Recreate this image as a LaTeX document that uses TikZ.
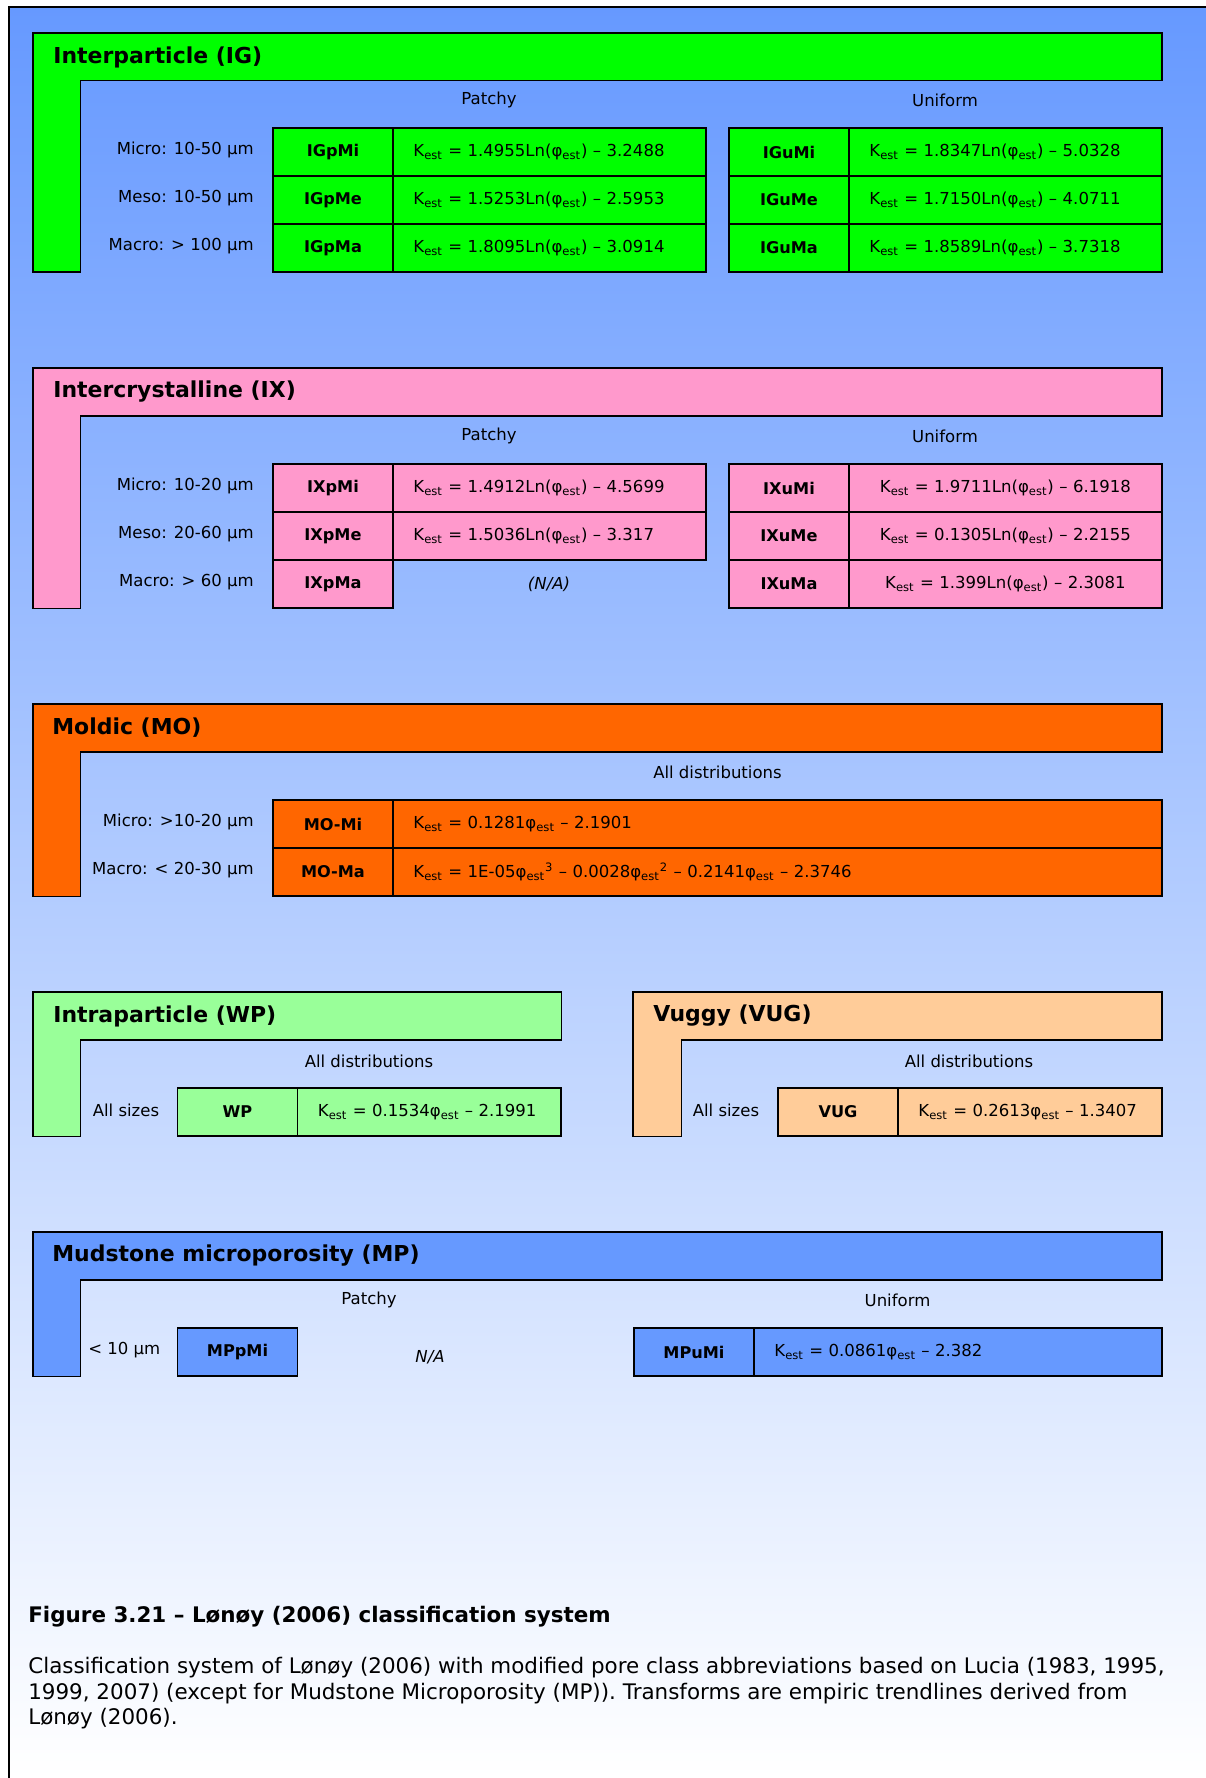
\documentclass[tikz,border=0pt]{standalone}
\usepackage{fontspec}
\setmainfont{DejaVu Sans}
\usepackage{xcolor}
\definecolor{bgblue}{HTML}{6699FF}
\definecolor{igcol}{HTML}{00FF00}
\definecolor{ixcol}{HTML}{FF99CC}
\definecolor{mocol}{HTML}{FF6600}
\definecolor{wpcol}{HTML}{99FF99}
\definecolor{vugcol}{HTML}{FFCC99}
\newcommand{\kest}{K\textsubscript{est}}
\newcommand{\pest}{φ\textsubscript{est}}
\tikzset{lshape/.style={draw, line width=1.1pt, line join=miter},
  ttl/.style={anchor=west, inner sep=0pt, font=\bfseries\fontsize{12.5pt}{14pt}\selectfont},
  lab/.style={inner sep=0pt, font=\fontsize{9.4pt}{11pt}\selectfont},
  rowlab/.style={lab, anchor=east},
  cell/.style={draw, line width=1.1pt, inner sep=0pt, outer sep=0pt, minimum height=0.96cm,
    anchor=north west, font=\fontsize{9.4pt}{11pt}\selectfont},
  codebox/.style={cell, minimum width=2.4cm, font=\bfseries\fontsize{9.2pt}{11pt}\selectfont},
  eqbox/.style={cell, text width=#1, align=left, inner xsep=0.41cm},
  eqmid/.style={cell, text width=#1, align=center},
  captxt/.style={anchor=base west, inner sep=0pt, font=\fontsize{12.2pt}{14pt}\selectfont}}

\begin{document}
\begin{tikzpicture}[x=0.02cm, y=-0.02cm]
    \useasboundingbox (0,0) rectangle (1206,1778);
    \fill[white] (0,0) rectangle (1206,1778);
    \shade[top color=bgblue, bottom color=white] (9,7) rectangle (1206,1778);
    \draw[line width=1.1pt] (9,1778) -- (9,7) -- (1206,7);

    % Interparticle (IG)
    \draw[lshape, fill=igcol] (33,33) -- (1162,33) -- (1162,80.5) -- (80.5,80.5) -- (80.5,272) -- (33,272) -- cycle;
    \node[ttl] (igt) at (53,57) {Interparticle (IG)};
    \node[lab] (igpat) at (489,100) {Patchy};
    \node[lab] (iguni) at (945,100) {Uniform};
    \node[rowlab] (igmi) at (254,150) {Micro: 10-50 µm};
    \node[rowlab] (igme) at (254,198) {Meso: 10-50 µm};
    \node[rowlab] (igma) at (254,246) {Macro: > 100 µm};
    \node[codebox, fill=igcol] (igpmi) at (273,128) {IGpMi};
    \node[codebox, fill=igcol] (igpme) at (igpmi.south west) {IGpMe};
    \node[codebox, fill=igcol] (igpma) at (igpme.south west) {IGpMa};
    \node[eqbox=5.44cm, fill=igcol] (igpmif) at (igpmi.north east) {\kest{} = 1.4955Ln(\pest) – 3.2488};
    \node[eqbox=5.44cm, fill=igcol] (igpmef) at (igpme.north east) {\kest{} = 1.5253Ln(\pest) – 2.5953};
    \node[eqbox=5.44cm, fill=igcol] (igpmaf) at (igpma.north east) {\kest{} = 1.8095Ln(\pest) – 3.0914};
    \node[codebox, fill=igcol] (igumi) at (729,128) {IGuMi};
    \node[codebox, fill=igcol] (igume) at (igumi.south west) {IGuMe};
    \node[codebox, fill=igcol] (iguma) at (igume.south west) {IGuMa};
    \node[eqbox=5.44cm, fill=igcol] (igumif) at (igumi.north east) {\kest{} = 1.8347Ln(\pest) – 5.0328};
    \node[eqbox=5.44cm, fill=igcol] (igumef) at (igume.north east) {\kest{} = 1.7150Ln(\pest) – 4.0711};
    \node[eqbox=5.44cm, fill=igcol] (igumaf) at (iguma.north east) {\kest{} = 1.8589Ln(\pest) – 3.7318};

    % Intercrystalline (IX)
    \draw[lshape, fill=ixcol] (33,368) -- (1162,368) -- (1162,416) -- (80.5,416) -- (80.5,608.5) -- (33,608.5) -- cycle;
    \node[ttl] (ixt) at (53,392) {Intercrystalline (IX)};
    \node[lab] (ixpat) at (489,436) {Patchy};
    \node[lab] (ixuni) at (945,436) {Uniform};
    \node[rowlab] (ixmi) at (254,486) {Micro: 10-20 µm};
    \node[rowlab] (ixme) at (254,534) {Meso: 20-60 µm};
    \node[rowlab] (ixma) at (254,582) {Macro: > 60 µm};
    \node[codebox, fill=ixcol] (ixpmi) at (273,464) {IXpMi};
    \node[codebox, fill=ixcol] (ixpme) at (ixpmi.south west) {IXpMe};
    \node[codebox, fill=ixcol] (ixpma) at (ixpme.south west) {IXpMa};
    \node[eqbox=5.44cm, fill=ixcol] (ixpmif) at (ixpmi.north east) {\kest{} = 1.4912Ln(\pest) – 4.5699};
    \node[eqbox=5.44cm, fill=ixcol] (ixpmef) at (ixpme.north east) {\kest{} = 1.5036Ln(\pest) – 3.317};
    \node[lab, font=\itshape\fontsize{9.4pt}{11pt}\selectfont] (ixpna) at (549,584) {(N/A)};
    \node[codebox, fill=ixcol] (ixumi) at (729,464) {IXuMi};
    \node[codebox, fill=ixcol] (ixume) at (ixumi.south west) {IXuMe};
    \node[codebox, fill=ixcol] (ixuma) at (ixume.south west) {IXuMa};
    \node[eqmid=6.26cm, fill=ixcol] (ixumif) at (ixumi.north east) {\kest{} = 1.9711Ln(\pest) – 6.1918};
    \node[eqmid=6.26cm, fill=ixcol] (ixumef) at (ixume.north east) {\kest{} = 0.1305Ln(\pest) – 2.2155};
    \node[eqmid=6.26cm, fill=ixcol] (ixumaf) at (ixuma.north east) {\kest{} = 1.399Ln(\pest) – 2.3081};

    % Moldic (MO)
    \draw[lshape, fill=mocol] (33,704) -- (1162,704) -- (1162,752) -- (80.5,752) -- (80.5,896.5) -- (33,896.5) -- cycle;
    \node[ttl] (mot) at (52,728) {Moldic (MO)};
    \node[lab] (moall) at (717.5,772) {All distributions};
    \node[rowlab] (momi) at (254,822) {Micro: >10-20 µm};
    \node[rowlab] (moma) at (254,870) {Macro: < 20-30 µm};
    \node[codebox, fill=mocol] (momic) at (273,800) {MO-Mi};
    \node[codebox, fill=mocol] (momac) at (momic.south west) {MO-Ma};
    \node[eqbox=14.56cm, fill=mocol] (momif) at (momic.north east) {\kest{} = 0.1281\pest{} – 2.1901};
    \node[eqbox=14.56cm, fill=mocol] (momaf) at (momac.north east)
        {\kest{} = 1E-05\pest\textsuperscript{3} – 0.0028\pest\textsuperscript{2} – 0.2141\pest{} – 2.3746};

    % Intraparticle (WP)
    \draw[lshape, fill=wpcol] (33,992) -- (561.5,992) -- (561.5,1040) -- (80.5,1040) -- (80.5,1136.5) -- (33,1136.5) -- cycle;
    \node[ttl] (wpt) at (53,1016) {Intraparticle (WP)};
    \node[lab] (wpall) at (369,1061) {All distributions};
    \node[lab] (wpsize) at (126,1110) {All sizes};
    \node[codebox, fill=wpcol] (wpc) at (177.5,1088) {WP};
    \node[eqbox=4.46cm, fill=wpcol] (wpf) at (wpc.north east) {\kest{} = 0.1534\pest{} – 2.1991};

    % Vuggy (VUG)
    \draw[lshape, fill=vugcol] (633,992) -- (1162,992) -- (1162,1040) -- (681.5,1040) -- (681.5,1136.5) -- (633,1136.5) -- cycle;
    \node[ttl] (vugt) at (653,1016) {Vuggy (VUG)};
    \node[lab] (vugall) at (969,1061) {All distributions};
    \node[lab] (vugsize) at (726,1110) {All sizes};
    \node[codebox, fill=vugcol] (vugc) at (778,1088) {VUG};
    \node[eqbox=4.46cm, fill=vugcol] (vugf) at (vugc.north east) {\kest{} = 0.2613\pest{} – 1.3407};

    % Mudstone microporosity (MP)
    \draw[lshape, fill=bgblue] (33,1232) -- (1162,1232) -- (1162,1280) -- (80.5,1280) -- (80.5,1376.5) -- (33,1376.5) -- cycle;
    \node[ttl] (mpt) at (52,1256) {Mudstone microporosity (MP)};
    \node[lab] (mppat) at (369,1300) {Patchy};
    \node[lab] (mpuni) at (897.5,1300) {Uniform};
    \node[lab, anchor=west] (mpsize) at (88,1350) {< 10 µm};
    \node[codebox, fill=bgblue] (mppmi) at (177.5,1328) {MPpMi};
    \node[lab, font=\itshape\fontsize{9.4pt}{11pt}\selectfont] (mpna) at (430,1357) {N/A};
    \node[codebox, fill=bgblue] (mpumi) at (634,1328) {MPuMi};
    \node[eqbox=7.34cm, fill=bgblue] (mpumif) at (mpumi.north east) {\kest{} = 0.0861\pest{} – 2.382};

    % caption
    \node[captxt, font=\bfseries\fontsize{12.2pt}{14pt}\selectfont] (capt) at (28,1622)
        {Figure 3.21 – Lønøy (2006) classification system};
    \node[captxt] (cap1) at (28,1673)
        {Classification system of Lønøy (2006) with modified pore class abbreviations based on Lucia (1983, 1995,};
    \node[captxt] (cap2) at (28,1699)
        {1999, 2007) (except for Mudstone Microporosity (MP)). Transforms are empiric trendlines derived from};
    \node[captxt] (cap3) at (28,1724) {Lønøy (2006).};
\end{tikzpicture}
\end{document}
